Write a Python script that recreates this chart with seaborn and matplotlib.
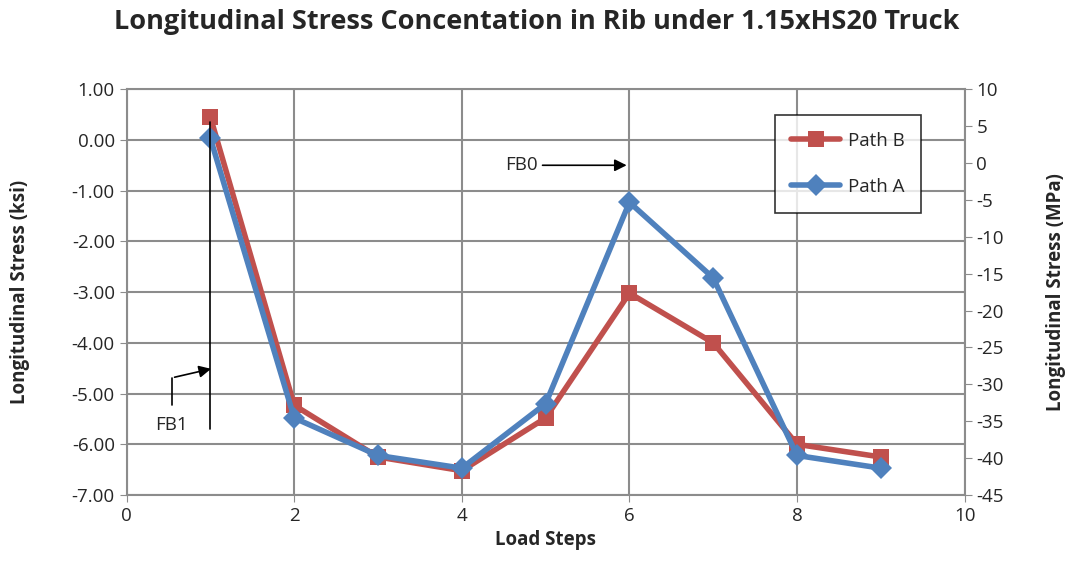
import seaborn as sns
import matplotlib.pyplot as plt
import pandas as pd
import numpy as np

# values (ksi)
load_steps = [1, 2, 3, 4, 5, 6, 7, 8, 9]
path_b = [0.45, -5.23, -6.25, -6.52, -5.48, -3.02, -4.00, -6.00, -6.25]
path_a = [0.03, -5.48, -6.22, -6.47, -5.20, -1.23, -2.72, -6.22, -6.47]

ksi_ticks = np.arange(-7, 1.01, 1)
mpa_ticks = np.arange(-45, 10.1, 5)
x_ticks = [0, 2, 4, 6, 8, 10]

red = "#C0504D"
blue = "#4F81BD"

sns.set_style("white")
plt.rcParams['font.family'] = ['Open Sans', 'DejaVu Sans']

df = pd.DataFrame({
    "step": load_steps * 2,
    "stress": path_b + path_a,
    "path": ["Path B"] * len(path_b) + ["Path A"] * len(path_a),
})

fig = plt.figure(figsize=(10.73, 5.79), dpi=100)
ax = fig.add_axes([0.118, 0.145, 0.781, 0.701])

sns.lineplot(data=df, x="step", y="stress", hue="path", style="path",
             palette={"Path B": red, "Path A": blue},
             markers={"Path B": "s", "Path A": "D"}, dashes=False,
             linewidth=4, markersize=11, markeredgewidth=0, ax=ax)

ax.set_xlim(0, 10)
ax.set_ylim(-7, 1)
ax.set_xticks(x_ticks)
ax.set_yticks(ksi_ticks)
ax.set_yticklabels([f"{v:.2f}" for v in ksi_ticks], fontsize=13.5)
ax.set_xticklabels([str(v) for v in x_ticks], fontsize=13.5)
ax.grid(True, color="#8c8c8c", linewidth=1.5)
for s in ax.spines.values():
    s.set_color("#8c8c8c")
    s.set_linewidth(1.5)
ax.tick_params(axis="both", length=5, color="#8c8c8c", direction="out",
               bottom=True, left=True)
ax.set_xlabel("Load Steps", fontsize=13.5, fontweight="bold")
ax.set_ylabel("Longitudinal Stress (ksi)", fontsize=13.5, fontweight="bold",
              labelpad=30)

ax2 = ax.twinx()
ax2.set_ylim(-45, 10)
ax2.set_yticks(mpa_ticks)
ax2.set_yticklabels([str(int(v)) for v in mpa_ticks], fontsize=13.5)
ax2.tick_params(axis="y", length=5, color="#8c8c8c", direction="out", right=True)
for s in ax2.spines.values():
    s.set_visible(False)
ax2.set_ylabel("Longitudinal Stress (MPa)", fontsize=13.5, fontweight="bold",
               labelpad=30)

# legend
h, l = ax.get_legend_handles_labels()
leg = ax.legend(h, l, loc="upper left", bbox_to_anchor=(0.762, 0.96),
                fontsize=13.5, frameon=True, fancybox=False, edgecolor="black",
                handlelength=2.6, labelspacing=1.5, borderpad=0.9,
                handletextpad=0.4)
leg.get_frame().set_linewidth(1.2)

# annotations
ax.plot([1.0, 1.0], [0.35, -5.7], color="black", linewidth=1.2)
ax.annotate("", xy=(1.04, -4.5), xytext=(0.54, -4.69),
            arrowprops=dict(arrowstyle="-|>", color="black", lw=1.2,
                            mutation_scale=18))
ax.plot([0.54, 0.54], [-4.69, -5.23], color="black", linewidth=1.2)
ax.text(0.54, -5.62, "FB1", fontsize=13.5, ha="center", va="center")

ax.annotate("", xy=(6.0, -0.5), xytext=(4.93, -0.5),
            arrowprops=dict(arrowstyle="-|>", color="black", lw=1.2,
                            mutation_scale=18))
ax.text(4.91, -0.5, "FB0", fontsize=13.5, ha="right", va="center")

fig.suptitle("Longitudinal Stress Concentation in Rib under 1.15xHS20 Truck",
             fontsize=19.5, fontweight="bold", y=0.985)

fig.savefig("out.png", dpi=100)
